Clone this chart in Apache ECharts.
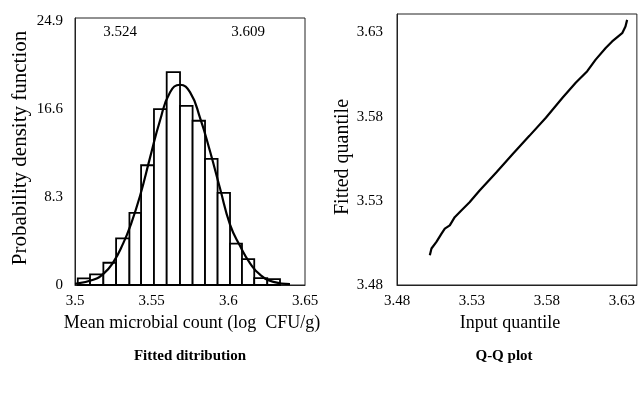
<!DOCTYPE html>
<html>
<head>
<meta charset="utf-8">
<script src="https://cdn.jsdelivr.net/npm/echarts@6/dist/echarts.min.js"></script>
<style>
html,body{margin:0;padding:0;background:#fff;}
#chart{width:638px;height:394px;}
</style>
</head>
<body>
<div id="chart"></div>
<script>
// ---- Data ----
// Histogram bins (left panel)
const binEdges = [3.5018, 3.5098, 3.5185, 3.5268, 3.5355, 3.5431, 3.5515, 3.5598, 3.5685,
                  3.5767, 3.5848, 3.5930, 3.6011, 3.6089, 3.6169, 3.6254, 3.6337];
const binHeights = [0.63, 1.0, 2.1, 4.4, 6.8, 11.3, 16.6, 20.1, 16.9, 15.5, 11.9, 8.7, 3.9, 2.45, 0.65, 0.55];
// Fitted density curve (left panel)
const curveX = [3.5000, 3.5119, 3.5185, 3.5250, 3.5315, 3.5359, 3.5424, 3.5489, 3.5554, 3.5620,
                3.5685, 3.5750, 3.5815, 3.5881, 3.5946, 3.6011, 3.6076, 3.6142, 3.6207, 3.6294, 3.6402];
const curveY = [0.1, 0.5, 1.05, 2.15, 3.95, 5.5, 8.4, 12.0, 15.5, 18.2,
                18.9, 18.2, 15.8, 12.6, 9.1, 5.7, 3.7, 2.05, 0.97, 0.3, 0.08];
// Q-Q plot (right panel)
const qqX = [3.5019, 3.5030, 3.5063, 3.5097, 3.5119, 3.5152, 3.5185, 3.5229, 3.5284, 3.5351, 3.5462,
             3.5572, 3.5683, 3.5793, 3.5904, 3.5992, 3.6069, 3.6125, 3.6192, 3.6235, 3.6302, 3.6324, 3.6335];
const qqY = [3.4977, 3.5017, 3.5056, 3.5105, 3.5135, 3.5154, 3.5203, 3.5243, 3.5292, 3.5361, 3.5469,
             3.5578, 3.5686, 3.5794, 3.5912, 3.6001, 3.6070, 3.6139, 3.6208, 3.6247, 3.6296, 3.6336, 3.6375];
// Tick labels
const leftXTicks = [3.5, 3.55, 3.6, 3.65];
const leftYTicks = [0, 8.3, 16.6, 24.9];
const qqTicks = [3.48, 3.53, 3.58, 3.63];
const markerLabels = ['3.524', '3.609'];

const FONT = '"Liberation Serif", "Times New Roman", serif';
const histData = binHeights.map((h, i) => [binEdges[i], binEdges[i + 1], h]);
const curveData = curveX.map((x, i) => [x, curveY[i]]);
const qqData = qqX.map((x, i) => [x, qqY[i]]);

const chart = echarts.init(document.getElementById('chart'), null, {renderer: 'canvas'});
const tickLabel = {color: '#000', fontFamily: FONT, fontSize: 15};

chart.setOption({
  animation: false,
  backgroundColor: '#fff',
  grid: [
    {left: 75, top: 18, width: 230, height: 267, show: true, borderColor: '#222', borderWidth: 1, containLabel: false},
    {left: 397, top: 14, width: 240, height: 271, show: true, borderColor: '#222', borderWidth: 1, containLabel: false}
  ],
  xAxis: [
    {gridIndex: 0, type: 'value', min: 3.5, max: 3.65, interval: 0.05,
     axisLine: {show: true, lineStyle: {color: '#222'}}, axisTick: {show: false}, splitLine: {show: false},
     axisLabel: Object.assign({margin: 9, customValues: leftXTicks}, tickLabel)},
    {gridIndex: 1, type: 'value', min: 3.48, max: 3.64,
     axisLine: {show: true, lineStyle: {color: '#222'}}, axisTick: {show: false}, splitLine: {show: false},
     axisLabel: Object.assign({margin: 9, customValues: qqTicks, showMaxLabel: true}, tickLabel)}
  ],
  yAxis: [
    {gridIndex: 0, type: 'value', min: 0, max: 25.2,
     axisLine: {show: true, lineStyle: {color: '#222'}}, axisTick: {show: false}, splitLine: {show: false},
     axisLabel: Object.assign({margin: 12, customValues: leftYTicks}, tickLabel)},
    {gridIndex: 1, type: 'value', min: 3.48, max: 3.641,
     axisLine: {show: true, lineStyle: {color: '#222'}}, axisTick: {show: false}, splitLine: {show: false},
     axisLabel: Object.assign({margin: 14, customValues: qqTicks}, tickLabel)}
  ],
  series: [
    {type: 'custom', xAxisIndex: 0, yAxisIndex: 0, data: histData,
     encode: {x: [0, 1], y: 2},
     renderItem: function (params, api) {
       const p0 = api.coord([api.value(0), api.value(2)]);
       const p1 = api.coord([api.value(1), 0]);
       return {type: 'rect',
         shape: {x: p0[0], y: p0[1], width: p1[0] - p0[0], height: p1[1] - p0[1]},
         style: {fill: '#fff', stroke: '#000', lineWidth: 1.8}};
     }},
    {type: 'line', xAxisIndex: 0, yAxisIndex: 0, data: curveData, smooth: true, symbol: 'none',
     lineStyle: {color: '#000', width: 2.2}, z: 5},
    {type: 'line', xAxisIndex: 1, yAxisIndex: 1, data: qqData, smooth: false, symbol: 'none',
     lineStyle: {color: '#000', width: 2.2}}
  ],
  graphic: [
    {type: 'text', x: 120, y: 32, style: {text: markerLabels[0], font: '15px ' + FONT, fill: '#000', align: 'center', verticalAlign: 'middle'}},
    {type: 'text', x: 248, y: 32, style: {text: markerLabels[1], font: '15px ' + FONT, fill: '#000', align: 'center', verticalAlign: 'middle'}},
    {type: 'text', x: 192, y: 323, style: {text: 'Mean microbial count (log  CFU/g)', font: '18px ' + FONT, fill: '#000', align: 'center', verticalAlign: 'middle'}},
    {type: 'text', x: 510, y: 323, style: {text: 'Input quantile', font: '18px ' + FONT, fill: '#000', align: 'center', verticalAlign: 'middle'}},
    {type: 'text', x: 190, y: 356, style: {text: 'Fitted ditribution', font: 'bold 15px ' + FONT, fill: '#000', align: 'center', verticalAlign: 'middle'}},
    {type: 'text', x: 504, y: 356, style: {text: 'Q-Q plot', font: 'bold 15px ' + FONT, fill: '#000', align: 'center', verticalAlign: 'middle'}},
    {type: 'text', x: 20, y: 148, rotation: Math.PI / 2, style: {text: 'Probability density function', font: '21px ' + FONT, fill: '#000', align: 'center', verticalAlign: 'middle'}},
    {type: 'text', x: 343, y: 157, rotation: Math.PI / 2, style: {text: 'Fitted quantile', font: '20px ' + FONT, fill: '#000', align: 'center', verticalAlign: 'middle'}}
  ]
});
</script>
</body>
</html>
